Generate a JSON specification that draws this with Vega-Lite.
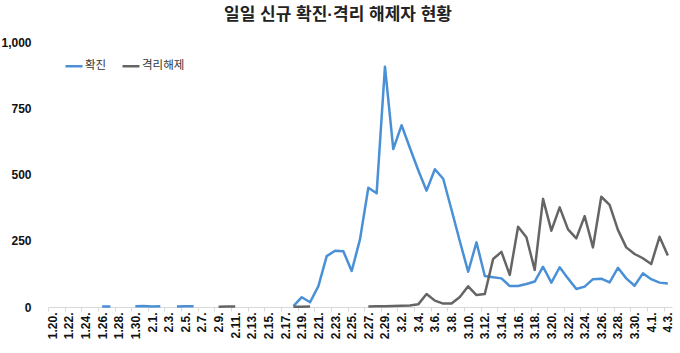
{
  "$schema": "https://vega.github.io/schema/vega-lite/v6.json",
  "autosize": "none",
  "padding": {"left": 48, "top": 42, "right": 8, "bottom": 46},
  "width": 624,
  "height": 265,
  "background": "white",
  "config": {"view": {"stroke": null}},
  "title": {
    "text": "일일 신규 확진·격리 해제자 현황",
    "font": "Liberation Sans, Noto Sans CJK KR",
    "fontSize": 17,
    "fontWeight": "bold",
    "color": "#222222",
    "anchor": "middle",
    "dx": -22,
    "offset": 12
  },
  "data": {
    "values": [
      {"d": "1.20.", "확진": null, "격리해제": null},
      {"d": "1.21.", "확진": null, "격리해제": null},
      {"d": "1.22.", "확진": null, "격리해제": null},
      {"d": "1.23.", "확진": null, "격리해제": null},
      {"d": "1.24.", "확진": null, "격리해제": null},
      {"d": "1.25.", "확진": null, "격리해제": null},
      {"d": "1.26.", "확진": 2, "격리해제": null},
      {"d": "1.27.", "확진": 2, "격리해제": null},
      {"d": "1.28.", "확진": null, "격리해제": null},
      {"d": "1.29.", "확진": null, "격리해제": null},
      {"d": "1.30.", "확진": 3, "격리해제": null},
      {"d": "1.31.", "확진": 4, "격리해제": null},
      {"d": "2.1.", "확진": 2, "격리해제": null},
      {"d": "2.2.", "확진": 3, "격리해제": null},
      {"d": "2.3.", "확진": null, "격리해제": null},
      {"d": "2.4.", "확진": 2, "격리해제": null},
      {"d": "2.5.", "확진": 3, "격리해제": null},
      {"d": "2.6.", "확진": 3, "격리해제": null},
      {"d": "2.7.", "확진": null, "격리해제": null},
      {"d": "2.8.", "확진": null, "격리해제": null},
      {"d": "2.9.", "확진": null, "격리해제": 1},
      {"d": "2.10.", "확진": null, "격리해제": 2},
      {"d": "2.11.", "확진": null, "격리해제": 2},
      {"d": "2.12.", "확진": null, "격리해제": null},
      {"d": "2.13.", "확진": null, "격리해제": null},
      {"d": "2.14.", "확진": null, "격리해제": null},
      {"d": "2.15.", "확진": null, "격리해제": null},
      {"d": "2.16.", "확진": null, "격리해제": null},
      {"d": "2.17.", "확진": null, "격리해제": null},
      {"d": "2.18.", "확진": 3, "격리해제": 1},
      {"d": "2.19.", "확진": 37, "격리해제": 1},
      {"d": "2.20.", "확진": 18, "격리해제": 2},
      {"d": "2.21.", "확진": 79, "격리해제": null},
      {"d": "2.22.", "확진": 192, "격리해제": null},
      {"d": "2.23.", "확진": 212, "격리해제": null},
      {"d": "2.24.", "확진": 210, "격리해제": null},
      {"d": "2.25.", "확진": 136, "격리해제": null},
      {"d": "2.26.", "확진": 255, "격리해제": null},
      {"d": "2.27.", "확진": 450, "격리해제": 2},
      {"d": "2.28.", "확진": 429, "격리해제": 3},
      {"d": "2.29.", "확진": 907, "격리해제": 3},
      {"d": "3.1.", "확진": 596, "격리해제": 4},
      {"d": "3.2.", "확진": 686, "격리해제": 5},
      {"d": "3.3.", "확진": 600, "격리해제": 6},
      {"d": "3.4.", "확진": 516, "격리해제": 10},
      {"d": "3.5.", "확진": 439, "격리해제": 49},
      {"d": "3.6.", "확진": 520, "격리해제": 24},
      {"d": "3.7.", "확진": 484, "격리해제": 13},
      {"d": "3.8.", "확진": 367, "격리해제": 13},
      {"d": "3.9.", "확진": 248, "격리해제": 38},
      {"d": "3.10.", "확진": 133, "격리해제": 78},
      {"d": "3.11.", "확진": 244, "격리해제": 45},
      {"d": "3.12.", "확진": 117, "격리해제": 49},
      {"d": "3.13.", "확진": 112, "격리해제": 181},
      {"d": "3.14.", "확진": 108, "격리해제": 208},
      {"d": "3.15.", "확진": 79, "격리해제": 121},
      {"d": "3.16.", "확진": 79, "격리해제": 303},
      {"d": "3.17.", "확진": 87, "격리해제": 263},
      {"d": "3.18.", "확진": 96, "격리해제": 140},
      {"d": "3.19.", "확진": 152, "격리해제": 408},
      {"d": "3.20.", "확진": 92, "격리해제": 288},
      {"d": "3.21.", "확진": 150, "격리해제": 376},
      {"d": "3.22.", "확진": 108, "격리해제": 293},
      {"d": "3.23.", "확진": 68, "격리해제": 259},
      {"d": "3.24.", "확진": 77, "격리해제": 343},
      {"d": "3.25.", "확진": 105, "격리해제": 225},
      {"d": "3.26.", "확진": 107, "격리해제": 416},
      {"d": "3.27.", "확진": 93, "격리해제": 385},
      {"d": "3.28.", "확진": 148, "격리해제": 291},
      {"d": "3.29.", "확진": 108, "격리해제": 225},
      {"d": "3.30.", "확진": 80, "격리해제": 200},
      {"d": "3.31.", "확진": 127, "격리해제": 184},
      {"d": "4.1.", "확진": 105, "격리해제": 162},
      {"d": "4.2.", "확진": 92, "격리해제": 265},
      {"d": "4.3.", "확진": 89, "격리해제": 194}
    ]
  },
  "transform": [{"fold": ["확진", "격리해제"], "as": ["s", "v"]}],
  "mark": {"type": "line", "strokeWidth": 2.5, "invalid": "break-paths-show-domains", "strokeJoin": "round"},
  "encoding": {
    "x": {
      "field": "d",
      "type": "ordinal",
      "sort": null,
      "scale": {"type": "point", "padding": 0.5},
      "axis": {
        "title": null,
        "values": ["1.20.", "1.22.", "1.24.", "1.26.", "1.28.", "1.30.", "2.1.", "2.3.", "2.5.", "2.7.", "2.9.", "2.11.", "2.13.", "2.15.", "2.17.", "2.19.", "2.21.", "2.23.", "2.25.", "2.27.", "2.29.", "3.2.", "3.4.", "3.6.", "3.8.", "3.10.", "3.12.", "3.14.", "3.16.", "3.18.", "3.20.", "3.22.", "3.24.", "3.26.", "3.28.", "3.30.", "4.1.", "4.3."],
        "labelAngle": -90,
        "labelFont": "Liberation Sans",
        "labelFontSize": 12,
        "labelFontWeight": "bold",
        "labelColor": "#111111",
        "labelPadding": 1,
        "tickSize": 4,
        "tickColor": "#d9d9d9",
        "domainColor": "#d9d9d9",
        "tickOffset": -4.16,
        "labelOffset": 4.16,
        "grid": false
      }
    },
    "y": {
      "field": "v",
      "type": "quantitative",
      "scale": {"domain": [0, 1000]},
      "axis": {
        "title": null,
        "values": [0, 250, 500, 750, 1000],
        "format": ",.0f",
        "grid": false,
        "domain": false,
        "ticks": false,
        "labelPadding": 17,
        "labelFont": "Liberation Sans",
        "labelFontSize": 12,
        "labelFontWeight": "bold",
        "labelColor": "#111111"
      }
    },
    "color": {
      "field": "s",
      "type": "nominal",
      "scale": {"domain": ["확진", "격리해제"], "range": ["#4a90d6", "#656565"]},
      "legend": {
        "title": null,
        "orient": "none",
        "legendX": 16,
        "legendY": 14,
        "direction": "horizontal",
        "symbolType": "stroke",
        "symbolSize": 289,
        "symbolStrokeWidth": 2.5,
        "labelFont": "Noto Sans CJK KR",
        "labelFontSize": 11.5,
        "labelColor": "#333333",
        "labelOffset": 1,
        "columnPadding": 10
      }
    }
  }
}
